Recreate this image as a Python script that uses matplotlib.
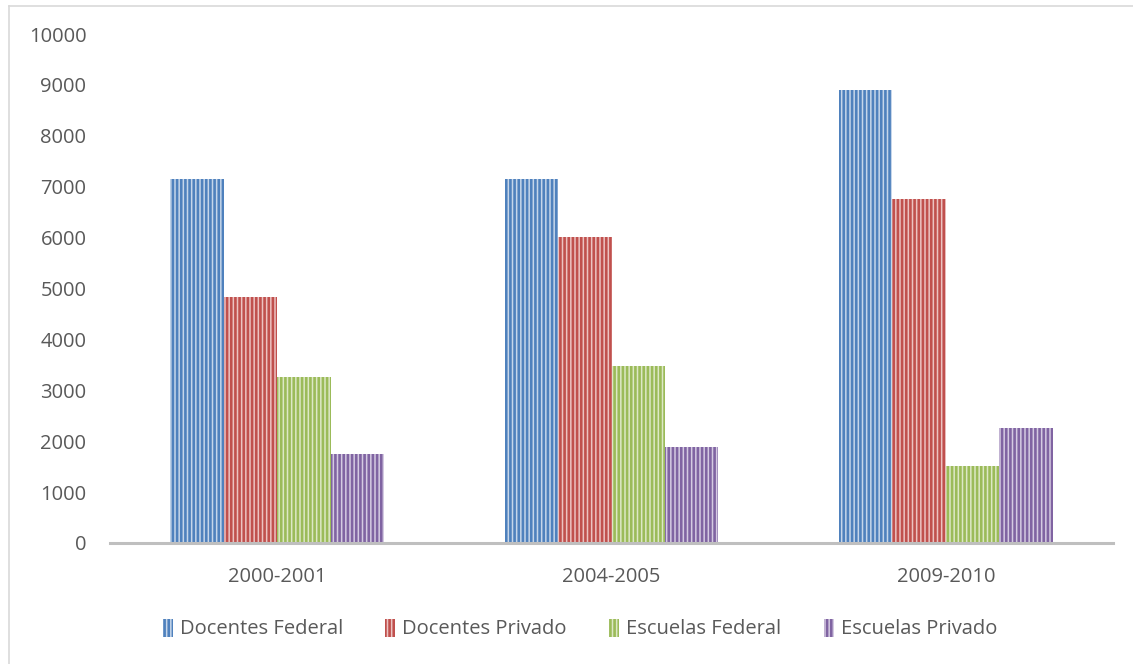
import matplotlib
matplotlib.use("Agg")
import matplotlib.pyplot as plt
from matplotlib.lines import Line2D
import numpy as np

periods = ["2000-2001", "2004-2005", "2009-2010"]
series_names = ["Docentes Federal", "Docentes Privado", "Escuelas Federal", "Escuelas Privado"]
docentes_federal = [7160, 7150, 8900]
docentes_privado = [4840, 6010, 6760]
escuelas_federal = [3260, 3480, 1510]
escuelas_privado = [1750, 1890, 2260]
y_ticks = [0, 1000, 2000, 3000, 4000, 5000, 6000, 7000, 8000, 9000, 10000]

series_values = [docentes_federal, docentes_privado, escuelas_federal, escuelas_privado]
stripe_colors = ["#4f81bd", "#c0504d", "#9bbb59", "#8064a2"]
fill_colors = ["#c6d6ea", "#ecc3c2", "#dde8c6", "#d5cbe2"]

plt.rcParams["font.family"] = ["Open Sans", "DejaVu Sans"]
plt.rcParams["hatch.linewidth"] = 1.9

W, H = 1133, 664
fig = plt.figure(figsize=(W / 100, H / 100), dpi=100)
ax = fig.add_axes([110 / W, 1 - 543 / H, (1113 - 110) / W, (543 - 34) / H])

x = np.arange(len(periods))
bar_w = 0.16
offsets = (np.arange(4) - 1.5) * bar_w
handles = []
for vals, off, sc, fc, name in zip(series_values, offsets, stripe_colors, fill_colors, series_names):
    bars = ax.bar(x + off, vals, width=bar_w, color=fc, edgecolor=sc,
                  hatch="||||", linewidth=0, label=name)
    for b in bars:
        b._hatch_color = matplotlib.colors.to_rgba(sc)
    handles.append(bars)

ax.set_xlim(-0.5, 2.5)
ax.set_ylim(0, 10000)
ax.set_yticks(y_ticks)
ax.set_yticklabels([str(v) for v in y_ticks])
ax.set_xticks(x)
ax.set_xticklabels(periods)
ax.tick_params(axis="both", length=0, labelsize=14.5, colors="#595959")
ax.tick_params(axis="y", pad=17)
ax.tick_params(axis="x", pad=17)
for side in ["top", "right", "left"]:
    ax.spines[side].set_visible(False)
ax.spines["bottom"].set_color("#bfbfbf")
ax.spines["bottom"].set_linewidth(2.2)

leg = fig.legend(handles=handles, labels=series_names, loc="center",
                 bbox_to_anchor=(580 / W, 1 - 629 / H), ncol=4, frameon=False,
                 fontsize=14.5, handlelength=0.5, handleheight=1.0,
                 handletextpad=0.35, columnspacing=2.1)
for t in leg.get_texts():
    t.set_color("#595959")

# outer chart frame
fig.add_artist(Line2D([8.5 / W, 1.0], [1 - 5.5 / H, 1 - 5.5 / H],
                      transform=fig.transFigure, color="#d9d9d9", linewidth=1.2))
fig.add_artist(Line2D([8.5 / W, 8.5 / W], [0.0, 1 - 5.5 / H],
                      transform=fig.transFigure, color="#d9d9d9", linewidth=1.2))

fig.savefig("out.png", dpi=100, facecolor="white")
